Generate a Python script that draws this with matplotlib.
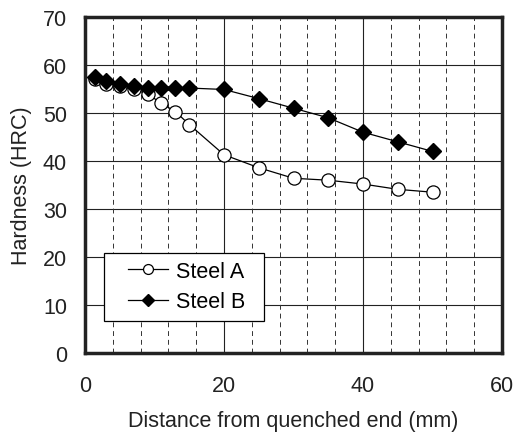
import numpy as np
import matplotlib
matplotlib.use('Agg')
import matplotlib.pyplot as plt
from matplotlib.patches import Rectangle

plt.rcParams['font.family'] = ['Liberation Sans', 'DejaVu Sans']

# Jominy distances (mm) and hardness readings (HRC)
distance = [1.5, 3, 5, 7, 9, 11, 13, 15, 20, 25, 30, 35, 40, 45, 50]
hardness_a = [57.1, 56.0, 55.6, 54.9, 54.0, 52.0, 50.3, 47.6, 41.3, 38.6, 36.4, 36.0, 35.2, 34.1, 33.5]
hardness_b = [57.5, 56.7, 56.0, 55.7, 55.2, 55.2, 55.2, 55.2, 54.9, 53.0, 51.0, 49.0, 46.0, 44.0, 42.0]

x_ticks = [0, 20, 40, 60]
y_ticks = [0, 10, 20, 30, 40, 50, 60, 70]

fig = plt.figure(figsize=(5.16, 4.39), dpi=100)
ax = fig.add_axes([0.1647, 0.1936, 0.8082, 0.7654])

# grid: solid horizontals, dashed verticals every 4 mm, solid at 20/40
for y in y_ticks[1:-1]:
    ax.axhline(y, color='#222222', lw=0.8, zorder=1)
for x in range(4, 60, 4):
    if x % 20 == 0:
        ax.axvline(x, color='#222222', lw=0.8, zorder=1)
    else:
        ax.axvline(x, color='#333333', lw=0.7, ls=(0, (5, 4)), zorder=1)

ax.plot(distance, hardness_a, '-o', color='black', lw=0.9, ms=9.5,
        mfc='white', mec='black', mew=0.9, label='Steel A', zorder=3)
ax.plot(distance, hardness_b, '-D', color='black', lw=0.9, ms=8,
        mfc='black', mec='black', label='Steel B', zorder=3)

ax.set_xlim(0, 60)
ax.set_ylim(0, 70)
ax.set_xticks(x_ticks)
ax.set_yticks(y_ticks)
ax.tick_params(length=0, labelsize=15.5, colors='#222222')
ax.tick_params(axis='x', pad=16)
ax.tick_params(axis='y', pad=13)
for s in ax.spines.values():
    s.set_linewidth(2.5)
    s.set_color('#222222')

ax.set_xlabel('Distance from quenched end (mm)', fontsize=15.5, color='#222222', labelpad=10)
ax.set_ylabel('Hardness (HRC)', fontsize=15.5, color='#222222', labelpad=8)

# legend box drawn separately for the wide padding of the original
ax.add_patch(Rectangle((0.0456, 0.0952), 0.3837, 0.2024, transform=ax.transAxes,
                       facecolor='white', edgecolor='black', lw=0.9, zorder=4))
leg = ax.legend(loc='center left', bbox_to_anchor=(0.103, 0.198), fontsize=15.5,
                frameon=False, borderaxespad=0, borderpad=0,
                markerscale=0.75, handlelength=1.85,
                labelspacing=0.45, handletextpad=0.38)
leg.set_zorder(5)

fig.savefig('out.png', dpi=100)
